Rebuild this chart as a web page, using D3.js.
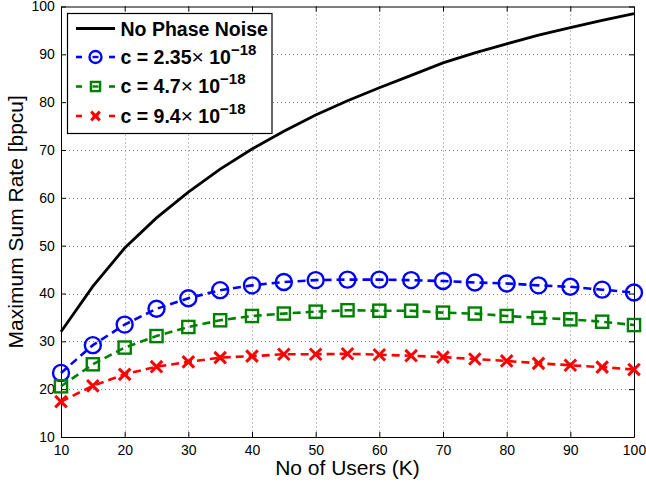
<!DOCTYPE html>
<html lang="en">
<head>
<meta charset="UTF-8">
<title>Maximum Sum Rate vs No of Users</title>
<script src="https://cdn.jsdelivr.net/npm/d3@7/dist/d3.min.js"></script>
<style>
	body { margin: 0; background: #fff; }
	svg text { font-family: "Liberation Sans", Arial, Helvetica, sans-serif; }
</style>
</head>
<body>
<div id="container"></div>
<script>

	// data
	var users = [10, 15, 20, 25, 30, 35, 40, 45, 50, 55, 60, 65, 70, 75, 80, 85, 90, 95, 100];
	var noPhaseNoise = [32.0, 41.5, 49.5, 55.8, 61.2, 66.0, 70.2, 73.9, 77.3, 80.3, 83.0, 85.6, 88.2, 90.3, 92.2, 94.0, 95.6, 97.1, 98.5];
	var c235 = [23.4, 29.2, 33.5, 36.8, 39.0, 40.7, 41.7, 42.4, 42.8, 42.9, 42.9, 42.8, 42.6, 42.3, 42.1, 41.7, 41.4, 40.8, 40.2];
	var c47 = [20.6, 25.2, 28.7, 31.1, 33.0, 34.4, 35.3, 35.8, 36.2, 36.5, 36.4, 36.4, 36.0, 35.8, 35.3, 34.9, 34.6, 34.1, 33.4];
	var c94 = [17.4, 20.7, 23.1, 24.7, 25.7, 26.6, 26.9, 27.3, 27.3, 27.4, 27.2, 27.0, 26.7, 26.3, 25.9, 25.4, 25.0, 24.6, 24.1];

	var xTicks = [10, 20, 30, 40, 50, 60, 70, 80, 90, 100];
	var yTicks = [10, 20, 30, 40, 50, 60, 70, 80, 90, 100];

	var series = [
		{ values: c235, color: "#0000ff", marker: "circle", label: "2.35" },
		{ values: c47,  color: "#008000", marker: "square", label: "4.7" },
		{ values: c94,  color: "#ff0000", marker: "cross",  label: "9.4" }
	];

	var width = 646, height = 486;
	var pLeft = 61, pRight = 634, pTop = 6.5, pBottom = 437;

	var svg = d3.select("#container").append("svg")
		.attr("width", width)
		.attr("height", height);

	var x = d3.scaleLinear().domain([10, 100]).range([pLeft, pRight]);
	var y = d3.scaleLinear().domain([10, 100]).range([pBottom, pTop]);

	// grid
	var grid = svg.append("g").attr("class", "grid")
		.attr("stroke", "#808080").attr("stroke-width", 1).attr("stroke-dasharray", "1,3");
	xTicks.slice(1, -1).forEach(function(t){
		grid.append("line")
			.attr("x1", Math.round(x(t)) + 0.5).attr("x2", Math.round(x(t)) + 0.5)
			.attr("y1", pTop).attr("y2", pBottom);
	});
	yTicks.slice(1, -1).forEach(function(t){
		grid.append("line")
			.attr("y1", Math.round(y(t)) + 0.5).attr("y2", Math.round(y(t)) + 0.5)
			.attr("x1", pLeft).attr("x2", pRight);
	});

	// axes (ticks inside, box)
	var xAxis = d3.axisBottom(x).tickValues(xTicks).tickSizeInner(-5).tickSizeOuter(0).tickPadding(8);
	var yAxis = d3.axisLeft(y).tickValues(yTicks).tickSizeInner(-5).tickSizeOuter(0).tickPadding(9);
	var xTop = d3.axisTop(x).tickValues(xTicks).tickSizeInner(-5).tickSizeOuter(0).tickFormat("");
	var yRight = d3.axisRight(y).tickValues(yTicks).tickSizeInner(-5).tickSizeOuter(0).tickFormat("");

	function styleAxis(g) {
		g.selectAll("path, line").attr("stroke", "#000").attr("stroke-width", 1);
		g.selectAll("text").attr("fill", "#000").style("font-size", "14px");
	}

	svg.append("g").attr("transform", "translate(0," + pBottom + ")").call(xAxis).call(styleAxis);
	svg.append("g").attr("transform", "translate(" + pLeft + ",0)").call(yAxis).call(styleAxis)
		.selectAll("text").attr("dx", "0.2em");
	svg.append("g").attr("transform", "translate(0," + pTop + ")").call(xTop).call(styleAxis);
	svg.append("g").attr("transform", "translate(" + pRight + ",0)").call(yRight).call(styleAxis);

	// axis labels
	svg.append("text")
		.attr("x", (pLeft + pRight) / 2)
		.attr("y", 475)
		.attr("text-anchor", "middle")
		.style("font-size", "21px")
		.text("No of Users (K)");

	svg.append("text")
		.attr("transform", "translate(23," + (pTop + pBottom) / 2 + ") rotate(-90)")
		.attr("text-anchor", "middle")
		.style("font-size", "21px")
		.text("Maximum Sum Rate [bpcu]");

	// no phase noise curve
	var line = d3.line()
		.x(function(d, i){ return x(users[i]); })
		.y(function(d){ return y(d); });

	svg.append("path")
		.datum(noPhaseNoise)
		.attr("d", line)
		.attr("fill", "none")
		.attr("stroke", "#000")
		.attr("stroke-width", 2.8);

	function drawMarker(g, type, cx, cy, color, size) {
		if (type === "circle") {
			g.append("circle").attr("cx", cx).attr("cy", cy).attr("r", size / 2)
				.attr("fill", "none").attr("stroke", color).attr("stroke-width", 2.4);
		} else if (type === "square") {
			g.append("rect").attr("x", cx - size * 0.38).attr("y", cy - size * 0.38)
				.attr("width", size * 0.76).attr("height", size * 0.76)
				.attr("fill", "none").attr("stroke", color).attr("stroke-width", 2.4);
		} else {
			var h = size * 0.36;
			g.append("path")
				.attr("d", "M" + (cx - h) + "," + (cy - h) + "L" + (cx + h) + "," + (cy + h) +
					"M" + (cx - h) + "," + (cy + h) + "L" + (cx + h) + "," + (cy - h))
				.attr("stroke", color).attr("stroke-width", 3);
		}
	}

	series.forEach(function(s){
		var g = svg.append("g");
		g.append("path")
			.datum(s.values)
			.attr("d", line)
			.attr("fill", "none")
			.attr("stroke", s.color)
			.attr("stroke-width", 2.6)
			.attr("stroke-dasharray", "8,5");
		s.values.forEach(function(v, i){
			drawMarker(g, s.marker, x(users[i]), y(v), s.color, 16);
		});
	});

	// legend
	var legend = svg.append("g");
	legend.append("rect")
		.attr("x", 67.5).attr("y", 13.5)
		.attr("width", 204.5).attr("height", 120)
		.attr("fill", "#fff").attr("stroke", "#000").attr("stroke-width", 1.2);

	var rowY = [28.5, 57, 86.5, 116];
	var sx1 = 76, sx2 = 115, tx = 120.5;

	legend.append("line")
		.attr("x1", sx1).attr("x2", sx2).attr("y1", rowY[0]).attr("y2", rowY[0])
		.attr("stroke", "#000").attr("stroke-width", 3);
	legend.append("text")
		.attr("x", tx).attr("y", rowY[0] + 7)
		.style("font-size", "19.5px").style("font-weight", "bold")
		.text("No Phase Noise");

	series.forEach(function(s, i){
		var cy = rowY[i + 1];
		legend.append("line").attr("x1", sx1).attr("x2", sx1 + 6).attr("y1", cy).attr("y2", cy)
			.attr("stroke", s.color).attr("stroke-width", 2.6);
		legend.append("line").attr("x1", sx2 - 6).attr("x2", sx2).attr("y1", cy).attr("y2", cy)
			.attr("stroke", s.color).attr("stroke-width", 2.6);
		legend.append("line").attr("x1", (sx1 + sx2) / 2 - 3).attr("x2", (sx1 + sx2) / 2 + 3).attr("y1", cy).attr("y2", cy)
			.attr("stroke", s.color).attr("stroke-width", 2.4);
		drawMarker(legend, s.marker, (sx1 + sx2) / 2, cy, s.color, 12);

		var t = legend.append("text")
			.attr("x", tx).attr("y", cy + 6.5)
			.style("font-size", "19.5px").style("font-weight", "bold");
		t.append("tspan").text("c = " + s.label);
		t.append("tspan").style("font-weight", "normal").style("font-size", "21px").text("\u00d7");
		t.append("tspan").text(" 10");
		t.append("tspan").attr("dy", -9).style("font-size", "15px").text("\u221218");
	});

</script>
</body>
</html>
